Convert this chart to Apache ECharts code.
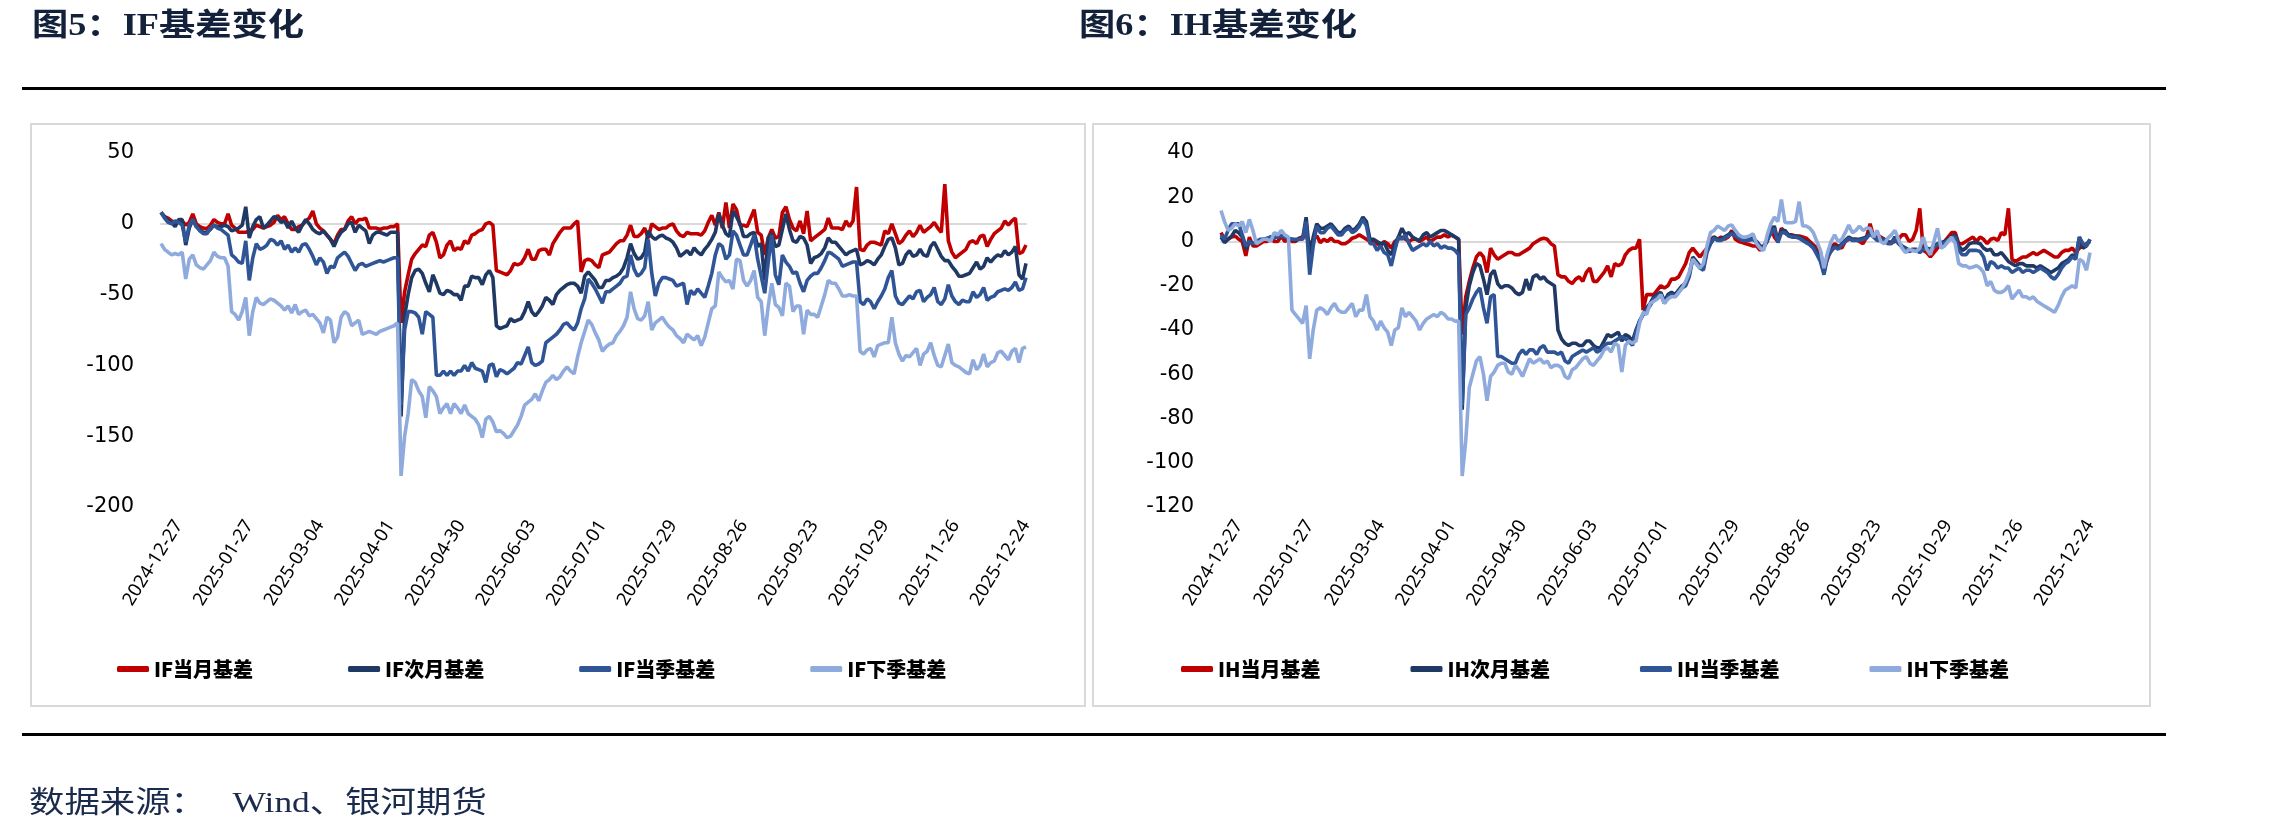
<!DOCTYPE html>
<html>
<head>
<meta charset="utf-8">
<script src="https://cdn.jsdelivr.net/npm/echarts@6/dist/echarts.min.js"></script>
<style>
html,body{margin:0;padding:0;background:#fff}
#main{width:2287px;height:833px}
</style>
</head>
<body>
<div id="main"></div>
<script>
// 交易日（2024-12-20 ~ 2025-12-24，剔除周末与休市日）
var holidays = ['2025-01-01','2025-01-28','2025-01-29','2025-01-30','2025-01-31','2025-02-03','2025-02-04',
  '2025-04-04','2025-05-01','2025-05-02','2025-05-05','2025-06-02',
  '2025-10-01','2025-10-02','2025-10-03','2025-10-06','2025-10-07','2025-10-08'];
function tradingDays(start, end) {
  var out = [];
  var d = new Date(start + 'T00:00:00Z');
  var e = new Date(end + 'T00:00:00Z');
  while (d <= e) {
    var s = d.toISOString().slice(0, 10);
    var wd = d.getUTCDay();
    if (wd !== 0 && wd !== 6 && holidays.indexOf(s) < 0) out.push(s);
    d.setUTCDate(d.getUTCDate() + 1);
  }
  return out;
}
var dates = tradingDays('2024-12-20', '2025-12-24');

var ifNames = ['IF当月基差', 'IF次月基差', 'IF当季基差', 'IF下季基差'];
var ihNames = ['IH当月基差', 'IH次月基差', 'IH当季基差', 'IH下季基差'];
var lineColors = ['#C00000', '#1F3864', '#2F5597', '#8FAADC'];

// IF基差
var ifCurMonth = [8, 5, 4, 2, 1, 1.5, 2, -1, 1, 7,
 0, -2, -3, -3.5, -1, 3, 1, 0, 0, 7,
 -1, -3, -6, -6, -6, -5, -4, -1, -2, -3,
 -2, -1, 1, 6, 3, 5, 0, -4, -4, -2,
 -1, 2, 4, 9, 0, -3, -5, -8, -11, -14,
 -8, -4, -4, 2, 5, 0, 3, 3, 4, -3,
 -3, -3, -4, -3, -3, -2, -2, 0, -70, -48,
 -36, -25, -21, -18, -15, -16, -8, -6, -13, -24,
 -22, -15, -12, -19, -17, -18, -12, -14, -8, -7,
 -5, -4, 0, 1, -1, -33, -34, -35, -36, -33,
 -28, -29, -28, -24, -18, -25, -25, -19, -18, -18,
 -22, -14, -10, -6, -3, -3, -3, 0, 2, -34,
 -26, -25, -26, -29, -31, -22, -21, -20, -17, -14,
 -12, -12, -8, -1, -9, -9, -7, -3, -10, 0,
 -2, -4, -3, -3, -1, 0, -5, -8, -9, -6,
 -7, -7, -7, -8, -5, 1, 6, -1, 8, -3,
 15, -3, 14, 10, -1, -1, -2, 4, 10, -6,
 -8, -22, -10, -4, -10, -9, 8, 12, 3, -3,
 -5, 2, -7, 9, -12, -10, -8, -6, -4, 4,
 -3, -3, -3, -4, 2, -2, 2, 26, -18, -19,
 -15, -13, -13, -14, -15, -5, -7, 0, -7, -14,
 -12, -8, -5, -9, -6, -1, -6, -4, -2, 1,
 -3, -6, 28, -12, -20, -24, -22, -20, -18, -13,
 -12, -14, -9, -8, -16, -11, -7, -5, -3, 2,
 -1, 2, 4, -21, -20, -15];
var ifNextMonth = [8, 5, 2, 1, -2, 3, 3, -15, -3, 3,
 -2, -4, -6, -6, -4, -1, -2, -2, -1, -2,
 -5, -4, -3, -1, 12, -10, -2, 3, 5, -3,
 -1, 2, 5, 4, 1, 2, -3, 2, -3, -6,
 -1, 3, 0, -4, -6, -7, -5, -8, -11, -16,
 -10, -6, -4, 0, 1, -6, -1, -3, -5, -14,
 -8, -6, -6, -7, -8, -6, -6, -6, -136, -65,
 -50, -38, -33, -32, -35, -42, -48, -36, -42, -49,
 -50, -47, -48, -50, -50, -54, -44, -44, -37, -38,
 -38, -43, -36, -33, -38, -72, -74, -73, -72, -67,
 -69, -68, -67, -62, -55, -62, -65, -62, -58, -52,
 -54, -57, -50, -47, -45, -43, -42, -42, -44, -49,
 -37, -34, -37, -40, -45, -45, -40, -40, -38, -37,
 -35, -31, -24, -14, -21, -25, -24, -20, -5, -9,
 -11, -9, -8, -10, -11, -13, -17, -23, -21, -19,
 -22, -17, -20, -22, -18, -15, -11, -6, 7, -1,
 -7, -9, 9, 5, 0, -9, -9, -7, -6, -16,
 -14, -40, -10, -7, -16, -15, -4, 7, -4, -12,
 -13, -9, -10, -15, -28, -24, -23, -21, -17, -10,
 -13, -13, -16, -19, -22, -20, -19, -18, -29, -28,
 -26, -27, -29, -25, -22, -16, -11, -10, -17, -29,
 -28, -22, -19, -23, -22, -18, -22, -23, -16, -13,
 -18, -23, -26, -26, -30, -33, -37, -37, -36, -35,
 -31, -27, -32, -30, -24, -27, -24, -22, -23, -19,
 -22, -20, -16, -36, -39, -28];
var ifCurQuarter = [8, 4, 1, 0, 2, 1, -1, -13, -1, 3,
 -2, -5, -7, -7, -3, -1, -3, -4, -6, -8,
 -22, -24, -27, -28, -12, -40, -24, -14, -18, -17,
 -15, -11, -12, -15, -12, -18, -15, -20, -17, -20,
 -15, -14, -18, -23, -29, -24, -27, -35, -30, -31,
 -24, -22, -20, -23, -28, -33, -29, -28, -30, -29,
 -28, -27, -26, -27, -26, -25, -24, -24, -128, -75,
 -62, -62, -63, -66, -78, -62, -64, -66, -107, -107,
 -104, -107, -104, -107, -104, -104, -100, -104, -98, -102,
 -103, -104, -112, -100, -99, -108, -103, -104, -106, -104,
 -102, -98, -99, -93, -87, -98, -100, -99, -97, -84,
 -82, -80, -78, -75, -71, -70, -73, -75, -70, -60,
 -53, -39, -42, -46, -51, -56, -48, -48, -46, -44,
 -42, -38, -37, -22, -32, -37, -35, -31, -11, -35,
 -51, -42, -38, -38, -39, -40, -44, -43, -42, -57,
 -47, -50, -46, -49, -52, -44, -35, -22, -14, -16,
 -25, -22, -5, -8, -15, -22, -22, -15, -8, -25,
 -37, -49, -27, -8, -36, -43, -22, -27, -30, -35,
 -34, -42, -48, -40, -37, -35, -35, -31, -26, -20,
 -21, -23, -25, -30, -29, -28, -27, -27, -55, -57,
 -53, -55, -60, -55, -51, -46, -38, -33, -51, -56,
 -57, -54, -51, -53, -48, -47, -55, -52, -50, -45,
 -55, -57, -53, -43, -51, -55, -57, -54, -55, -55,
 -48, -52, -50, -45, -54, -52, -51, -48, -47, -46,
 -47, -45, -41, -47, -46, -38];
var ifNextQuarter = [-14, -18, -20, -22, -21, -22, -20, -39, -25, -22,
 -29, -31, -32, -29, -26, -20, -23, -24, -24, -30,
 -62, -64, -68, -62, -52, -79, -62, -52, -56, -57,
 -55, -53, -54, -56, -58, -61, -58, -63, -57, -64,
 -62, -61, -65, -64, -67, -70, -77, -66, -68, -84,
 -80, -66, -62, -64, -72, -70, -68, -78, -77, -76,
 -77, -78, -76, -75, -74, -73, -72, -70, -178, -150,
 -134, -110, -112, -118, -122, -137, -115, -118, -122, -134,
 -130, -127, -134, -127, -130, -134, -128, -134, -136, -138,
 -142, -151, -138, -136, -140, -147, -146, -148, -151, -150,
 -146, -142, -136, -128, -126, -124, -120, -125, -118, -112,
 -110, -107, -110, -108, -104, -101, -104, -106, -94, -84,
 -76, -68, -71, -77, -82, -90, -87, -85, -84, -79,
 -76, -72, -66, -48, -60, -67, -68, -65, -55, -75,
 -70, -68, -66, -70, -73, -75, -79, -81, -84, -78,
 -80, -82, -79, -86, -80, -70, -60, -58, -34, -38,
 -41, -40, -46, -25, -26, -40, -44, -40, -33, -52,
 -55, -79, -58, -42, -57, -59, -65, -42, -44, -62,
 -58, -58, -78, -61, -64, -64, -66, -58, -50, -40,
 -42, -42, -46, -51, -51, -50, -51, -51, -90, -92,
 -89, -88, -94, -86, -85, -84, -84, -66, -84, -92,
 -97, -93, -94, -91, -88, -100, -92, -90, -84, -93,
 -100, -101, -93, -85, -98, -100, -101, -103, -105, -106,
 -96, -103, -100, -92, -101, -98, -97, -91, -90, -93,
 -96, -90, -88, -98, -88, -87];

// IH基差
var ihCurMonth = [4, 1, 1, 2, 2.5, 1, 0, -6.5, 2, -2,
 -2, -1, 0, 0, 1, 0, 0, 2.5, 0, 1,
 0, 0, 1.5, 2, 3, -2, 1, 2.5, -0.5, 1,
 0, 1.5, 0, 0, -1, -1, 0, 1.5, 2, 3,
 2, 1, 0, 0, -1, -2, 0, -1, -3, 0,
 1, 2, 1, 0, 1, 1, 0, 1, 2, 0,
 1, 2, 2, 3, 2, 3, 2, 1, -42, -25,
 -18, -12, -7, -5, -7, -14, -3, -6, -8, -7,
 -6, -5, -5, -6, -6, -5, -4, -3, -1, 0,
 1, 1.5, 1, -1, -2, -15, -16, -16, -18, -19,
 -17, -16, -18, -14, -12, -18, -18, -16, -14, -11,
 -16, -10, -11, -10, -6, -4, -3, -3, 1, -31,
 -24, -24, -24, -22, -20, -21, -20, -17, -17, -16,
 -13, -10, -5, -3, -5, -7, -5, -3, 1, 2,
 1, 2, 1, 2, 5, 1, 0, -0.5, -1, -1.5,
 -2, -2, -4, -2, 0, 7, 2, 0, 6, 4,
 3, 3, 2.5, 2.5, 2, 1.5, 0, -1.5, -3, -5,
 -12, -8, -3, -1, -2, -3, 0, 1, 1, 1,
 0, -1, 2, 8, 2, 3, 2, 1, 0, -0.5,
 0, 1, 3, 3, 0, 1, 5, 15, -4, -5,
 -7, -5, -3, -1, 0, 2, 4, 4, -1, -1,
 0, 1, 2, 0, 2, 1, -1, 1, 1.5, 0.5,
 4, 3, 15, -8, -9, -8, -7, -7, -6, -5,
 -6, -5, -4, -5, -6, -7, -7, -5, -4, -4,
 -3, -5, -3, -2, -1, 0];
var ihNextMonth = [2, -0.5, 1, 2.5, 5, 4, 2, -3.5, 0, -1,
 -0.5, 0.5, 1, 1, 2, 1.5, 2.5, 2.5, 2, 1,
 1, 0.5, 1, 1, 11, -6, 2, 8, 6, 6,
 7, 8, 6, 4, 4, 6, 7, 5, 6, 8,
 11, 9, 1, 1, 0, -1, -0.5, -4, -6, -1,
 2, 6, 3, 4, 2, 1, 0.5, 3, 4, 2,
 3, 4, 5, 5, 4, 3, 2, 1, -76, -30,
 -20, -14, -10, -11, -17, -24, -15, -13, -19, -21,
 -20, -20, -21, -23, -24, -23, -17, -22, -16, -15,
 -17, -16, -18, -19, -20, -40, -44, -46, -47, -46,
 -46, -47, -47, -45, -45, -47, -48, -48, -45, -42,
 -43, -42, -41, -45, -42, -43, -45, -40, -36, -33,
 -30, -28, -25, -24, -23, -27, -24, -23, -24, -22,
 -20, -19, -15, -7, -9, -11, -12, -4, -1, 2,
 1, 1, 2, 3, 4, 3, 2, 1, 1, 1,
 1.5, 0, -2, -2.5, 1, 4, 7, 0, 5, 5,
 3, 2.5, 2.5, 2, 1, 0, -1, -2.5, -5, -8,
 -14, -6, -4, -2, -3, -1, 0.5, 2, 1, 1,
 1, 1.5, 2, 4, 2.5, 1, 1, 1, -0.5, -0.5,
 2, -0.5, -2, -3, -4, -3.5, -3.5, -4.5, -3, -3,
 -3.5, -2, -1, -0.5, 0, 1, 2, 3, -2, -4,
 -3, -1, -0.5, -0.5, -1, -3, -4, -3.5, -6, -6,
 -5, -7, -9, -10, -11, -10, -10, -11, -11, -11,
 -12, -11, -12, -13, -14, -13, -12, -10, -9, -8,
 -6, -7, 2, -3, -2, 1];
var ihCurQuarter = [3, 1, 5, 8, 8, 8, 3, -2, 0, -1,
 0, 1, 1, 1.5, 2, 2, 2, 2.5, 2, 1.5,
 1, 1, 1, 1, 9, -15, -2, 7, 4, 4,
 6, 7, 5, 3, 3, 5, 6, 4, 5, 7,
 10, 7, -1, -1, -4, -2, -5, -6, -11, -4,
 2, 1, 3, -1, -4, -3, -2, -1, -2, 0,
 -2, -1, -3, -2, -3, -3, -4, -6, -74, -33,
 -30, -26, -23, -21, -30, -37, -25, -24, -52, -52,
 -53, -54, -55, -55, -51, -49, -51, -49, -49, -51,
 -48, -47, -50, -50, -50, -51, -50, -54, -55, -52,
 -51, -50, -49, -50, -49, -48, -50, -49, -47, -46,
 -46, -45, -44, -43, -44, -45, -47, -41, -36, -33,
 -31, -29, -26, -25, -24, -28, -25, -24, -25, -23,
 -21, -20, -16, -8, -10, -12, -13, -5, -1, 1.5,
 0.5, 0.5, 1.5, 2.5, 3.5, 2.5, 1.5, 0.5, 0.5, 0.5,
 1, -0.5, -2.5, -3, 0.5, 3.5, 6, -0.5, 4, 4,
 2.5, 2, 2, 1.5, 0.5, -0.5, -1.5, -3, -6, -9,
 -15, -7, -4.5, -2.5, -3.5, -1.5, 0, 1.5, 0.5, 0.5,
 0.5, 1, 1.5, 3.5, 2, 0.5, 0.5, 0.5, -1, -1,
 1.5, -1, -2.5, -3.5, -4.5, -4, -4, -5, -3.5, -3.5,
 -4, -2.5, -1.5, -1, -0.5, 0.5, 1.5, 2, -4, -6,
 -6, -4, -4, -4, -4.5, -7, -13, -9, -10, -12,
 -11, -12, -12, -14, -13, -12, -14, -13, -13, -14,
 -13, -12, -13, -14, -16, -17, -15, -12, -10, -9,
 -7, -8, 2, -1, -2, 1];
var ihNextQuarter = [14, 9, 5, 6, 8, 7, 9, 4, 10, 5,
 -1, 0, 1, 1, 0, 4, 3, 5, 3, 2,
 -31, -33, -35, -37, -29, -53, -40, -31, -30, -31,
 -33, -30, -28, -31, -32, -32, -30, -28, -34, -31,
 -31, -24, -34, -36, -40, -36, -39, -41, -47, -40,
 -39, -30, -34, -32, -34, -36, -40, -37, -35, -34,
 -33, -34, -32, -33, -35, -35, -36, -36, -106, -90,
 -66, -60, -54, -52, -60, -72, -61, -59, -56, -55,
 -55, -59, -60, -56, -58, -61, -57, -53, -55, -54,
 -53, -55, -54, -57, -56, -56, -57, -61, -62, -58,
 -57, -55, -53, -52, -55, -56, -54, -52, -49, -48,
 -50, -46, -47, -59, -47, -45, -46, -45, -37, -32,
 -33, -28, -27, -26, -24, -28, -26, -25, -25, -23,
 -21, -18, -14, -8, -10, -12, -10, -2, 4, 5,
 7, 6, 5, 7, 7.5, 5, 3, 2, 2, 2.5,
 3.5, -1, -3, -4, 3, 8, 11, 9, 19, 8.6,
 8.5, 8.5, 9, 18, 7, 7, 6, 4, 0, -4,
 -12, -5, 0, 3, 0, 1, 4, 7.5, 4, 5,
 7, 5, 6, 6, 2, 5, 0, -1, 1.5, 3,
 5, 1, -3, -5, -3.5, -4, -4.5, -3, 2, -3.5,
 -6, 0, 6, -3, -2, 0, 2, -1, -10, -11,
 -11, -12, -11.5, -11, -12, -14, -20, -18, -22, -23,
 -23, -22, -20, -26, -24, -22, -25, -25, -26, -25,
 -27, -28, -29, -30, -31, -32, -29, -25, -22, -21,
 -20, -21, -8, -9, -13, -5];

var ifData = [ifCurMonth, ifNextMonth, ifCurQuarter, ifNextQuarter];
var ihData = [ihCurMonth, ihNextMonth, ihCurQuarter, ihNextQuarter];

var chart = echarts.init(document.getElementById('main'), null, {renderer: 'canvas'});

function labelAxis(gi) {
  return {
    gridIndex: gi, type: 'category', data: dates, boundaryGap: false,
    axisLine: {show: false, onZero: false}, axisTick: {show: false},
    axisLabel: {
      interval: function (idx) { return (dates.length - 1 - idx) % 20 === 0; },
      rotate: 58, margin: 15, fontSize: 18.5, color: '#000', fontFamily: 'Noto Sans'
    }
  };
}
function zeroAxis(gi) {
  return {
    gridIndex: gi, type: 'category', data: dates, boundaryGap: false, position: 'top',
    axisLine: {show: true, onZero: true, lineStyle: {color: '#d9d9d9', width: 2}},
    axisTick: {show: false}, axisLabel: {show: false}
  };
}
function valAxis(gi, min, max, step) {
  return {
    gridIndex: gi, type: 'value', min: min, max: max, interval: step,
    axisLine: {show: false}, axisTick: {show: false}, splitLine: {show: false},
    axisLabel: {fontSize: 21, color: '#000', margin: 27, fontFamily: 'DejaVu Sans'}
  };
}
function makeSeries(names, data, xi, yi) {
  return names.map(function (n, k) {
    return {
      name: n, type: 'line', xAxisIndex: xi, yAxisIndex: yi, data: data[k],
      symbol: 'none', showSymbol: false,
      lineStyle: {color: lineColors[k], width: 3.6},
      itemStyle: {color: lineColors[k]}
    };
  });
}
var legendText = {fontSize: 20, fontWeight: 900, color: '#000', fontFamily: 'Noto Sans CJK SC'};
function makeLegend(names, left, gap) {
  return {
    data: names, left: left, top: 654, itemGap: gap,
    icon: 'roundRect', itemWidth: 32, itemHeight: 6, textStyle: legendText
  };
}

var option = {
  animation: false,
  backgroundColor: '#fff',
  grid: [
    {left: 161, right: 1261, top: 153, bottom: 326},
    {left: 1221, right: 197, top: 153, bottom: 326}
  ],
  xAxis: [labelAxis(0), zeroAxis(0), labelAxis(1), zeroAxis(1)],
  yAxis: [valAxis(0, -200, 50, 50), valAxis(1, -120, 40, 20)],
  legend: [makeLegend(ifNames, 112, 95), makeLegend(ihNames, 1176, 90)],
  series: makeSeries(ifNames, ifData, 0, 0).concat(makeSeries(ihNames, ihData, 2, 1)),
  graphic: [
    {type: 'text', x: 32, y: 27, scaleX: 1.17,
     style: {text: '图5：IF基差变化', font: 'bold 31px "Liberation Serif", "Noto Sans CJK SC"', fill: '#13213b', verticalAlign: 'middle'}},
    {type: 'text', x: 1079, y: 27, scaleX: 1.17,
     style: {text: '图6：IH基差变化', font: 'bold 31px "Liberation Serif", "Noto Sans CJK SC"', fill: '#13213b', verticalAlign: 'middle'}},
    {type: 'rect', shape: {x: 22, y: 87, width: 2144, height: 3}, style: {fill: '#000'}},
    {type: 'rect', shape: {x: 31, y: 124, width: 1054, height: 582}, style: {fill: 'none', stroke: '#d9d9d9', lineWidth: 2}, z: -1},
    {type: 'rect', shape: {x: 1093, y: 124, width: 1057, height: 582}, style: {fill: 'none', stroke: '#d9d9d9', lineWidth: 2}, z: -1},
    {type: 'rect', shape: {x: 22, y: 733, width: 2144, height: 3}, style: {fill: '#000'}},
    {type: 'text', x: 29, y: 804, scaleX: 1.18,
     style: {text: '数据来源：   Wind、银河期货', font: '30px "Liberation Serif", "Noto Sans CJK SC"', fill: '#1b2b4d', verticalAlign: 'middle'}}
  ]
};
chart.setOption(option);
</script>
</body>
</html>
